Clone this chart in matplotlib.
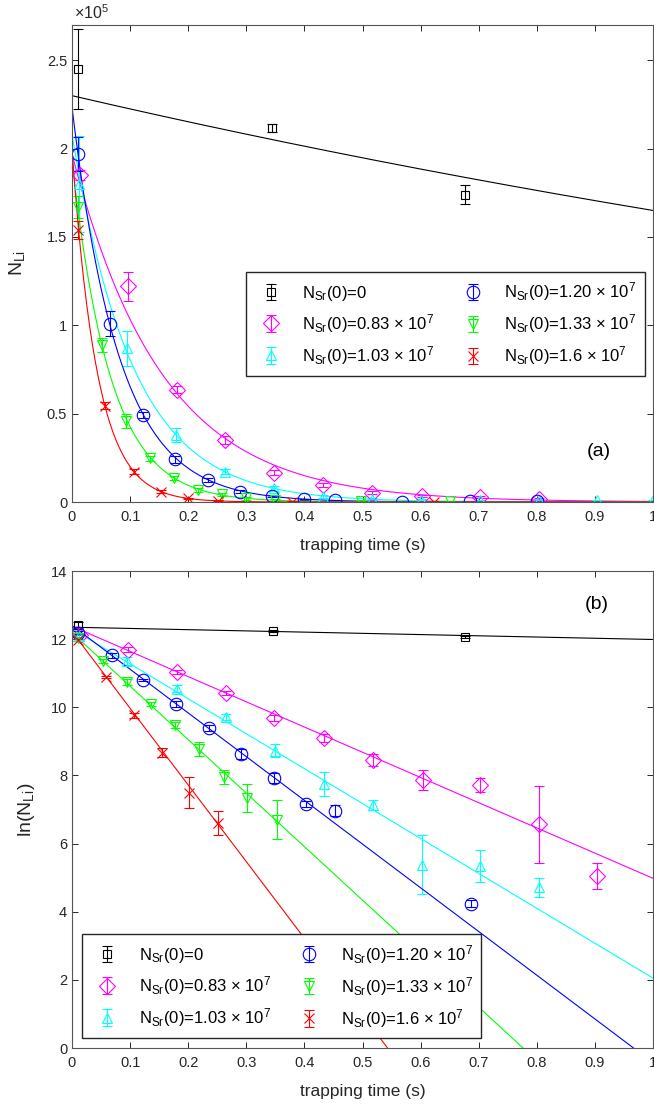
import numpy as np
import matplotlib
matplotlib.use('Agg')
import matplotlib.pyplot as plt
from matplotlib.ticker import FuncFormatter

plt.rcParams['font.family'] = ['Liberation Sans', 'DejaVu Sans']
plt.rcParams['mathtext.fontset'] = 'custom'
plt.rcParams['mathtext.rm'] = 'Liberation Sans'
plt.rcParams['mathtext.it'] = 'Liberation Sans:italic'

# legend labels, same order for both panels
labels = ['N$_{\\mathrm{Sr}}$(0)=0',
          'N$_{\\mathrm{Sr}}$(0)=0.83 × 10$^{7}$',
          'N$_{\\mathrm{Sr}}$(0)=1.03 × 10$^{7}$',
          'N$_{\\mathrm{Sr}}$(0)=1.20 × 10$^{7}$',
          'N$_{\\mathrm{Sr}}$(0)=1.33 × 10$^{7}$',
          'N$_{\\mathrm{Sr}}$(0)=1.6 × 10$^{7}$']
cores = ['k', '#ff00ff', '#00ffff', '#0000ff', '#00ff00', '#ff0000']
marcas = ['s', 'D', '^', 'o', 'v', 'x']
tam_marca = [6, 8, 7.5, 9, 7.5, 7.5]

# ---- painel (a): N_Li em unidades de 1e5 ----
ta_preto = [0.011, 0.344, 0.676]
Na_preto = [2.45, 2.117, 1.74]
ea_preto = [0.225, 0.02, 0.055]

ta_mag = [0.013, 0.097, 0.180, 0.263, 0.347, 0.432, 0.517, 0.602, 0.702, 0.803]
Na_mag = [1.85, 1.22, 0.635, 0.351, 0.166, 0.096, 0.053, 0.034, 0.030, 0.015]
ea_mag = [0.03, 0.08, 0.02, 0.02, 0.015, 0.012, 0.01, 0.008, 0.006, 0.005]

ta_cia = [0.012, 0.094, 0.179, 0.263, 0.347, 0.432, 0.517, 0.600, 0.702, 0.803, 0.903, 1.0]
Na_cia = [1.80, 0.87, 0.38, 0.172, 0.078, 0.030, 0.017, 0.011, 0.011, 0.011, 0.010, 0.010]
ea_cia = [0.27, 0.10, 0.04, 0.015, 0.015, 0.01, 0.004, 0.004, 0.003, 0.003, 0.002, 0.002]

ta_azul = [0.010, 0.066, 0.122, 0.178, 0.234, 0.290, 0.345, 0.400, 0.452, 0.568, 0.685, 0.800]
Na_azul = [1.97, 1.01, 0.493, 0.242, 0.125, 0.058, 0.034, 0.015, 0.011, 0.002, 0.004, 0.005]
ea_azul = [0.095, 0.07, 0.015, 0.02, 0.01, 0.008, 0.005, 0.004, 0.003, 0.002, 0.002, 0.002]

ta_verde = [0.010, 0.051, 0.093, 0.134, 0.176, 0.217, 0.259, 0.299, 0.350, 0.497, 0.651]
Na_verde = [1.67, 0.89, 0.46, 0.247, 0.134, 0.068, 0.044, 0.020, 0.012, 0.007, 0.005]
ea_verde = [0.06, 0.04, 0.04, 0.015, 0.012, 0.01, 0.008, 0.006, 0.005, 0.003, 0.003]

ta_verm = [0.011, 0.057, 0.107, 0.153, 0.200, 0.251, 0.379, 0.623]
Na_verm = [1.54, 0.544, 0.172, 0.058, 0.020, 0.007, 0.002, 0.002]
ea_verm = [0.05, 0.02, 0.012, 0.008, 0.005, 0.004, 0.002, 0.002]

# ajustes exponenciais do painel (a): N0 (1e5) e taxa (1/s)
N0_a = [2.30, 1.97, 2.08, 2.236, 1.93, 2.00]
k_a = [0.332, 6.45, 9.5, 12.3, 15.1, 23.0]

# ---- painel (b): ln(N_Li) ----
tb_preto = [0.011, 0.346, 0.676]
Lb_preto = [12.41, 12.24, 12.07]
eb_preto = [0.09, 0.02, 0.03]

tb_mag = [0.013, 0.097, 0.180, 0.265, 0.348, 0.433, 0.518, 0.604, 0.703, 0.804, 0.903]
Lb_mag = [12.13, 11.69, 11.03, 10.43, 9.69, 9.11, 8.45, 7.87, 7.72, 6.57, 5.05]
eb_mag = [0.02, 0.07, 0.05, 0.06, 0.09, 0.12, 0.17, 0.30, 0.20, 1.13, 0.38]

tb_cia = [0.012, 0.094, 0.180, 0.265, 0.349, 0.433, 0.518, 0.603, 0.703, 0.804]
Lb_cia = [12.10, 11.36, 10.54, 9.72, 8.73, 7.74, 7.14, 5.38, 5.33, 4.72]
eb_cia = [0.15, 0.11, 0.10, 0.09, 0.20, 0.35, 0.15, 0.86, 0.47, 0.28]

tb_azul = [0.010, 0.068, 0.123, 0.179, 0.235, 0.291, 0.347, 0.402, 0.452, 0.686]
Lb_azul = [12.19, 11.53, 10.79, 10.10, 9.39, 8.62, 7.93, 7.16, 6.97, 4.23]
eb_azul = [0.05, 0.07, 0.03, 0.08, 0.08, 0.15, 0.15, 0.10, 0.15, 0.10]

tb_verde = [0.010, 0.053, 0.094, 0.136, 0.178, 0.219, 0.261, 0.302, 0.352]
Lb_verde = [12.03, 11.36, 10.74, 10.10, 9.47, 8.78, 7.96, 7.33, 6.70]
eb_verde = [0.04, 0.05, 0.09, 0.06, 0.09, 0.20, 0.20, 0.41, 0.58]

tb_verm = [0.011, 0.059, 0.106, 0.155, 0.202, 0.252]
Lb_verm = [11.97, 10.89, 9.77, 8.67, 7.49, 6.61]
eb_verm = [0.03, 0.04, 0.07, 0.14, 0.45, 0.35]

# ajustes lineares do painel (b): intercepto e inclinacao
a_b = [12.35, 12.38, 12.30, 12.40, 12.19, 12.22]
k_b = [0.36, 7.40, 10.25, 12.83, 15.7, 22.5]

dados_a = [(ta_preto, Na_preto, ea_preto), (ta_mag, Na_mag, ea_mag), (ta_cia, Na_cia, ea_cia),
           (ta_azul, Na_azul, ea_azul), (ta_verde, Na_verde, ea_verde), (ta_verm, Na_verm, ea_verm)]
dados_b = [(tb_preto, Lb_preto, eb_preto), (tb_mag, Lb_mag, eb_mag), (tb_cia, Lb_cia, eb_cia),
           (tb_azul, Lb_azul, eb_azul), (tb_verde, Lb_verde, eb_verde), (tb_verm, Lb_verm, eb_verm)]

fig = plt.figure(figsize=(6.54, 11.07), dpi=100)
ax1 = fig.add_axes([72/654, 1-502/1107, 581/654, 477/1107])
ax2 = fig.add_axes([72/654, 1-1048/1107, 581/654, 477/1107])

tt = np.linspace(0, 1, 400)


def painel(ax, dados, curvas):
    hs = []
    for i, (t, y, e) in enumerate(dados):
        ax.plot(tt, curvas[i], color=cores[i], lw=0.8)
        h = ax.errorbar(t, y, yerr=e, fmt=marcas[i], color=cores[i], mfc='none',
                        ms=tam_marca[i], mew=0.8, elinewidth=0.8, capsize=3.5, capthick=0.8)
        hs.append(h)
    ax.set_xlim(0, 1)
    ax.set_xticks(np.arange(0, 1.01, 0.1))
    ax.xaxis.set_major_formatter(FuncFormatter(lambda v, p: '%g' % round(v, 2)))
    ax.yaxis.set_major_formatter(FuncFormatter(lambda v, p: '%g' % round(v, 2)))
    ax.tick_params(direction='in', top=True, right=True, length=4, width=0.7,
                   labelsize=10.5, colors='#262626')
    ax.tick_params(axis='x', pad=6)
    for s in ax.spines.values():
        s.set_color('#555555')
        s.set_linewidth(0.8)
    ax.set_xlabel('trapping time (s)', fontsize=12.5, color='#262626', labelpad=10)
    return hs


curvas_a = [N0_a[i] * np.exp(-k_a[i] * tt) for i in range(6)]
curvas_b = [a_b[i] - k_b[i] * tt for i in range(6)]

opcoes_legenda = dict(ncol=2, fontsize=12, frameon=True, fancybox=False, edgecolor='#262626',
                      framealpha=1, borderpad=0.5, labelspacing=0.55, handlelength=2.0,
                      handletextpad=0.9, columnspacing=1.3, borderaxespad=0)

hs1 = painel(ax1, dados_a, curvas_a)
ax1.set_ylim(0, 2.7)
ax1.set_yticks(np.arange(0, 2.51, 0.5))
ax1.set_ylabel('N$_{\\mathrm{Li}}$', fontsize=14, color='#262626')
ax1.yaxis.set_label_coords(-0.077, 0.5)
ax1.text(0.003, 1.006, '×10$^{5}$', transform=ax1.transAxes, fontsize=11.5,
         color='#262626', ha='left', va='bottom')
ax1.text(0.907, 0.105, '(a)', transform=ax1.transAxes, fontsize=14, ha='center', va='center')
ax1.legend(hs1, labels, loc='upper right', bbox_to_anchor=(0.986, 0.482), **opcoes_legenda)

hs2 = painel(ax2, dados_b, curvas_b)
ax2.set_ylim(0, 14)
ax2.set_yticks(np.arange(0, 14.1, 2))
ax2.set_ylabel('ln(N$_{\\mathrm{Li}}$)', fontsize=14, color='#262626')
ax2.yaxis.set_label_coords(-0.06, 0.5)
ax2.text(0.903, 0.929, '(b)', transform=ax2.transAxes, fontsize=14, ha='center', va='center')
ax2.legend(hs2, labels, loc='lower left', bbox_to_anchor=(0.017, 0.021), **opcoes_legenda)

plt.savefig('out.png', dpi=100)
